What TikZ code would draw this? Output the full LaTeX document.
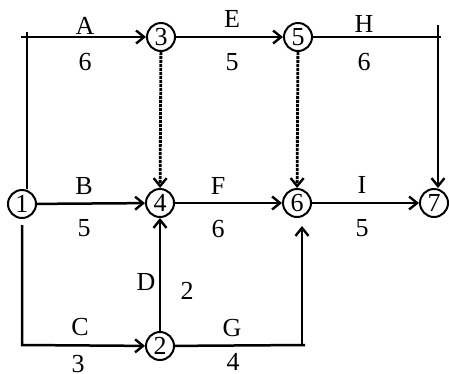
\documentclass[tikz,border=0pt]{standalone}
\usepackage{fontspec}
\setmainfont{Liberation Serif}
\usetikzlibrary{arrows.meta}
\begin{document}
\begin{tikzpicture}[x=1pt,y=-1pt,
  ev/.style={draw,circle,line width=2pt,minimum size=28pt,inner sep=0pt,font=\fontsize{26}{26}\selectfont},
  lab/.style={font=\fontsize{26}{26}\selectfont,inner sep=0pt},
  act/.style={line width=2.5pt},
  arr/.style={act,-{Straight Barb[length=8pt,width=13pt,line width=2.4pt]}},
  dum/.style={arr,line width=2.8pt,dash pattern=on 3pt off 1pt}]
\useasboundingbox (0,0) rectangle (449,373);
\node[ev] (n1) at (22,204) {1};
\node[ev] (n3) at (161,37) {3};
\node[ev] (n5) at (298,37) {5};
\node[ev] (n4) at (160,203) {4};
\node[ev] (n6) at (297,203) {6};
\node[ev] (n7) at (434,203) {7};
\node[ev] (n2) at (160,346) {2};
\coordinate (tl) at (27,37);
\coordinate (tr) at (438,37);
\coordinate (bl) at (22,345);
\coordinate (br) at (302,345);
% A
\draw[arr] (21,37) -- (n3);
\draw[act] (27,32) -- (tl |- n1.north);
% E
\draw[arr] (n3) -- (n5);
% H
\draw[act] (n5) -- (441,37);
\draw[arr] (438,25) -- (n7.north -| tr);
% dummies
\draw[dum] (n3) -- (n4);
\draw[dum] (n5) -- (n6);
% B F I
\draw[arr] (n1) -- (n4);
\draw[arr] (n4) -- (n6);
\draw[arr] (n6) -- (n7);
% C
\draw[arr] (22,225) -- (bl) -- (n2);
% D
\draw[arr] (n2) -- (n4);
% G
\draw[act] (n2) -- (305,345);
\draw[arr] (br) -- (302,226);
% labels
\node[lab] at (85,26) {A};
\node[lab] at (85,62) {6};
\node[lab] at (232,19) {E};
\node[lab] at (232,62) {5};
\node[lab] at (364,24) {H};
\node[lab] at (364,62) {6};
\node[lab] at (84,186) {B};
\node[lab] at (84,228) {5};
\node[lab] at (218,186) {F};
\node[lab] at (218,229) {6};
\node[lab] at (362,185) {I};
\node[lab] at (362,228) {5};
\node[lab] at (146,282) {D};
\node[lab] at (187,291) {2};
\node[lab] at (80,327) {C};
\node[lab] at (78,364) {3};
\node[lab] at (232,328) {G};
\node[lab] at (233,362) {4};
\end{tikzpicture}
\end{document}
